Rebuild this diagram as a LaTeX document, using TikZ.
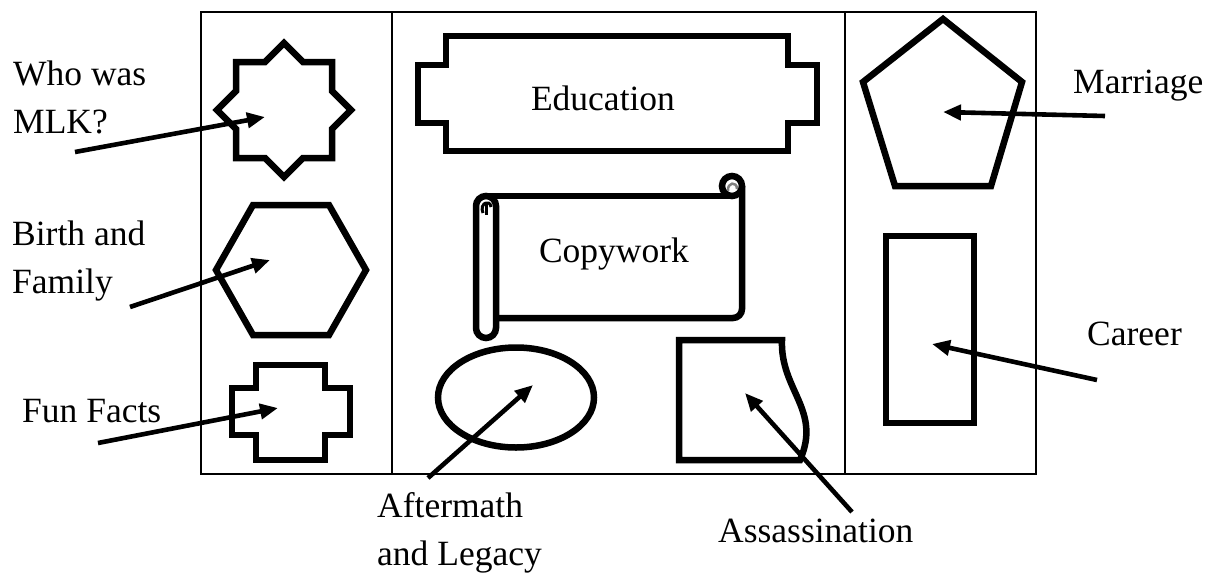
\documentclass[tikz,border=0pt]{standalone}
\usepackage{fontspec}
\setmainfont{Liberation Serif}
\usetikzlibrary{arrows.meta}
\begin{document}
\begin{tikzpicture}[x=1pt,y=-1pt,
  framebox/.style={line width=2.4pt,draw=black},
  shp/.style={line width=6.5pt,draw=black,line join=miter},
  arr/.style={line width=4.6pt,-{Triangle[length=18pt,width=15pt]}},
  lbl/.style={anchor=base west,inner sep=0pt,font=\fontsize{35.5}{48}\selectfont},
  ctr/.style={anchor=base,inner sep=0pt,font=\fontsize{35.5}{48}\selectfont}]
\useasboundingbox (0,0) rectangle (1215,576);
% frame
\draw[framebox] (201,12) rectangle (1036,474);
\draw[framebox] (392,12) -- (392,474);
\draw[framebox] (845,12) -- (845,474);
% left column shapes
\draw[shp] (284,43) -- (303,62) -- (332,62) -- (332,91) -- (351,110) -- (332,129) -- (332,158) -- (303,158)
  -- (284,177) -- (265,158) -- (236,158) -- (236,129) -- (217,110) -- (236,91) -- (236,62) -- (265,62) -- cycle;
\draw[shp] (253,205) -- (329,205) -- (366,270) -- (329,335) -- (253,335) -- (216,270) -- cycle;
\draw[shp] (256,365) -- (325,365) -- (325,388) -- (350,388) -- (350,435) -- (325,435) -- (325,460)
  -- (256,460) -- (256,435) -- (232,435) -- (232,388) -- (256,388) -- cycle;
% middle column
\draw[shp] (446,36) -- (788,36) -- (788,65) -- (817,65) -- (817,123) -- (788,123) -- (788,151)
  -- (446,151) -- (446,123) -- (418,123) -- (418,65) -- (446,65) -- cycle;
\node[ctr] (edu) at (603,110) {Education};
% scroll
\draw[shp] (486,196) -- (732,196);
\draw[shp,rounded corners=9] (742,186) -- (742,318) -- (496,318);
\draw[shp] (732,186) circle[radius=10];
\draw[line width=2.5pt,gray] (728,191) .. controls (727,182) and (737,181) .. (737,189);
\draw[shp,rounded corners=10] (476,196) rectangle (496,338);
\draw[line width=3pt] (483,213) .. controls (479,203) and (490,199) .. (491,207);
\draw[line width=3pt] (486,204) -- (486,215);
\node[ctr] (copy) at (614,262) {Copywork};
% ellipse
\draw[shp] (516,397.5) ellipse[x radius=78,y radius=50];
% assassination shape
\draw[shp] (679,340) -- (782,340) .. controls (780,390) and (822,410) .. (800,460) -- (679,460) -- cycle;
% right column
\draw[shp] (943,19) -- (1022,82) -- (991,186) -- (895,186) -- (863,82) -- cycle;
\draw[shp] (886,236) rectangle (974,423);
% labels
\node[lbl] (who1) at (13,85) {Who was};
\node[lbl] (who2) at (13,133) {MLK?};
\node[lbl] (bir1) at (12,245) {Birth and};
\node[lbl] (bir2) at (12,293) {Family};
\node[lbl] (fun) at (22,422) {Fun Facts};
\node[lbl] (aft1) at (377,517) {Aftermath};
\node[lbl] (aft2) at (377,565) {and Legacy};
\node[lbl] (ass) at (718,542) {Assassination};
\node[lbl] (mar) at (1073,93) {Marriage};
\node[lbl] (car) at (1087,345) {Career};
% arrow coordinates
\coordinate (a1s) at (75,152);   \coordinate (a1t) at (265,117);
\coordinate (a2s) at (130,307);  \coordinate (a2t) at (270,260);
\coordinate (a3s) at (98,443);   \coordinate (a3t) at (278,408);
\coordinate (a4s) at (428,478);  \coordinate (a4t) at (533,385);
\coordinate (a5s) at (852,512);  \coordinate (a5t) at (745,393);
\coordinate (a6s) at (1105,116); \coordinate (a6t) at (943,112);
\coordinate (a7s) at (1097,380); \coordinate (a7t) at (932,344);
\draw[arr] (a1s) -- (a1t);
\draw[arr] (a2s) -- (a2t);
\draw[arr] (a3s) -- (a3t);
\draw[arr] (a4s) -- (a4t);
\draw[arr] (a5s) -- (a5t);
\draw[arr] (a6s) -- (a6t);
\draw[arr] (a7s) -- (a7t);
\end{tikzpicture}
\end{document}
